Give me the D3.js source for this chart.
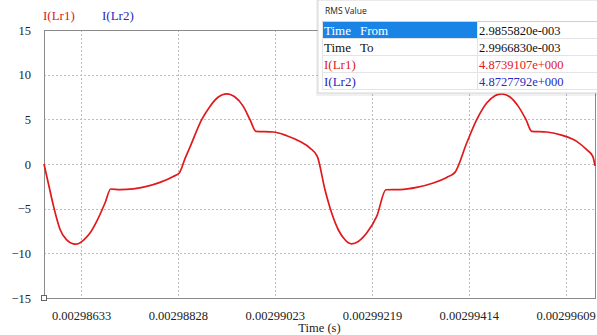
<!DOCTYPE html>
<html>
<head>
<meta charset="utf-8">
<script src="https://cdn.jsdelivr.net/npm/d3@7"></script>
<style>
  html, body { margin: 0; padding: 0; background: #fff; }
  svg { display: block; }
  svg text { font-family: "Liberation Serif", "Times New Roman", serif; }
  svg text.ui { font-family: "Open Sans", "Noto Sans", sans-serif; }
</style>
</head>
<body>
<script>
// Simulation time samples (microseconds) and inductor current I(Lr1) in amperes
const timeUs = [
  2985.582, 2985.703, 2985.769, 2985.838, 2985.904, 2986.039, 2986.172, 2986.222, 2986.273,
  2986.374, 2986.509, 2986.644, 2986.811, 2986.926, 2987.113, 2987.381, 2987.651, 2987.919,
  2988.187, 2988.308, 2988.423, 2988.524, 2988.759, 2988.926, 2989.094, 2989.178, 2989.263,
  2989.347, 2989.430, 2989.597, 2989.732, 2989.853, 2990.202, 2990.472, 2990.740, 2990.941,
  2991.088, 2991.243, 2991.378, 2991.511, 2991.646, 2991.714, 2991.781, 2991.914, 2992.083,
  2992.285, 2992.472, 2992.754, 2993.091, 2993.425, 2993.695, 2993.862, 2994.098, 2994.300,
  2994.501, 2994.668, 2994.735, 2994.803, 2994.886, 2994.970, 2995.138, 2995.293, 2995.408,
  2995.710, 2996.044, 2996.314, 2996.516, 2996.639, 2996.683
];
const iLr1 = [
  0, -3.0, -4.6, -6.1, -7.3, -8.5, -8.95, -8.98, -8.93,
  -8.55, -7.73, -6.42, -4.37, -2.80, -2.86, -2.78, -2.51, -2.06,
  -1.39, -1.0, 0.6, 1.9, 4.96, 6.45, 7.5, 7.75, 7.84,
  7.75, 7.5, 6.45, 4.96, 3.65, 3.58, 3.17, 2.53, 1.79,
  0.85, -2.88, -5.49, -7.36, -8.48, -8.82, -8.93, -8.67, -7.73,
  -5.87, -2.88, -2.86, -2.62, -2.13, -1.50, -0.94, 2.35, 4.96,
  6.83, 7.65, 7.80, 7.84, 7.75, 7.50, 6.45, 4.96, 3.65,
  3.58, 3.17, 2.53, 1.60, 0.85, -0.2
];

// Axis ticks
const xTickValues = [0.00298633, 0.00298828, 0.00299023, 0.00299219, 0.00299414, 0.00299609];
const xTickLabels = ["0.00298633", "0.00298828", "0.00299023", "0.00299219", "0.00299414", "0.00299609"];
const yTickValues = [-15, -10, -5, 0, 5, 10, 15];
const timeDomain = [2.985582e-3, 2.996683e-3];
const currentDomain = [-15, 15];

// Legend traces
const traceNames = ["I(Lr1)", "I(Lr2)"];
const traceColors = ["#e0191c", "#2a2ac0"];

// RMS measurement table
const rmsLabels = [["Time", "From"], ["Time", "To"], ["I(Lr1)", ""], ["I(Lr2)", ""]];
const rmsValues = ["2.9855820e-003", "2.9966830e-003", "4.8739107e+000", "4.8727792e+000"];
const rmsColors = ["#ffffff", "#111111", "#e0191c", "#2a2ac0"];

const W = 597, H = 335;
const m = { left: 44, right: 595, top: 30, bottom: 298 };

const svg = d3.select("body").append("svg").attr("width", W).attr("height", H);

const x = d3.scaleLinear().domain(timeDomain).range([m.left, m.right]);
const y = d3.scaleLinear().domain(currentDomain).range([m.bottom, m.top]);

// Dotted grid
const grid = svg.append("g").attr("stroke", "#bdbdbd").attr("stroke-dasharray", "2,2").attr("stroke-width", 1);
grid.selectAll("line.v").data(xTickValues).join("line")
  .attr("x1", d => Math.round(x(d)) + 0.5).attr("x2", d => Math.round(x(d)) + 0.5)
  .attr("y1", m.top).attr("y2", m.bottom);
grid.selectAll("line.h").data(yTickValues.filter(v => v > -15 && v < 15)).join("line")
  .attr("x1", m.left).attr("x2", m.right)
  .attr("y1", d => Math.round(y(d)) + 0.5).attr("y2", d => Math.round(y(d)) + 0.5);

// Plot frame
svg.append("rect")
  .attr("x", m.left + 0.5).attr("y", m.top + 0.5)
  .attr("width", m.right - m.left).attr("height", m.bottom - m.top)
  .attr("fill", "none").attr("stroke", "#8a8a8a").attr("stroke-width", 1);

// Y axis labels
const yAxis = d3.axisLeft(y).tickValues(yTickValues).tickSize(0).tickPadding(13);
const gy = svg.append("g").attr("transform", `translate(${m.left},0)`).call(yAxis);
gy.attr("font-family", null);
gy.select(".domain").remove();
gy.selectAll("text").attr("font-size", 12.5).attr("fill", "#222");

// X axis labels
const xAxis = d3.axisBottom(x).tickValues(xTickValues)
  .tickFormat((d, i) => xTickLabels[i]).tickSize(0).tickPadding(13);
const gx = svg.append("g").attr("transform", `translate(0,${m.bottom})`).call(xAxis);
gx.attr("font-family", null);
gx.select(".domain").remove();
gx.selectAll("text").attr("font-size", 12.5).attr("fill", "#222");

svg.append("text").attr("x", (m.left + m.right) / 2 + 0).attr("y", 332)
  .attr("text-anchor", "middle").attr("font-size", 12.5)
  .attr("fill", "#222").text("Time (s)");

// Origin marker
svg.append("rect").attr("x", m.left - 2.5).attr("y", m.bottom - 2.5)
  .attr("width", 5).attr("height", 5).attr("fill", "#fff").attr("stroke", "#666");

// Current waveform
const pts = timeUs.map((t, i) => [t * 1e-6, iLr1[i]]);
const line = d3.line().x(d => x(d[0])).y(d => y(d[1])).curve(d3.curveMonotoneX);
svg.append("path").datum(pts)
  .attr("d", line).attr("fill", "none")
  .attr("stroke", traceColors[0]).attr("stroke-width", 1.7)
  .attr("stroke-linejoin", "round");

// Legend
const legendX = [43, 102];
svg.selectAll("text.legend").data(traceNames).join("text")
  .attr("class", "legend")
  .attr("x", (d, i) => legendX[i]).attr("y", 20)
  .attr("font-size", 13)
  .attr("fill", (d, i) => traceColors[i]).text(d => d);

// RMS panel
const panel = svg.append("g");
panel.append("rect").attr("x", 316).attr("y", 0).attr("width", 290).attr("height", 96)
  .attr("fill", "#000").attr("opacity", 0.06);
panel.append("rect").attr("x", 318).attr("y", 0).attr("width", 290).attr("height", 93)
  .attr("fill", "#fff").attr("stroke", "#d6d6d6");
panel.append("text").attr("class", "ui").attr("x", 325).attr("y", 14)
  .attr("font-size", 8.5).attr("fill", "#222").text("RMS Value");
panel.append("line").attr("x1", 322).attr("x2", 597).attr("y1", 21.5).attr("y2", 21.5)
  .attr("stroke", "#b9d4ee");

const rowY = d3.scaleBand().domain(d3.range(rmsValues.length)).range([22, 90]);
const rows = panel.selectAll("g.row").data(rmsValues).join("g").attr("class", "row")
  .attr("transform", (d, i) => `translate(0,${rowY(i)})`);
rows.filter((d, i) => i === 0).append("rect")
  .attr("x", 322).attr("y", 0).attr("width", 155).attr("height", rowY.bandwidth())
  .attr("fill", "#1a84e6");
rows.append("line").attr("x1", 322).attr("x2", 597)
  .attr("y1", rowY.bandwidth() - 0.5).attr("y2", rowY.bandwidth() - 0.5)
  .attr("stroke", "#e4e4e4");
rows.append("text").attr("x", 324).attr("y", 13)
  .attr("font-size", 13)
  .attr("fill", (d, i) => rmsColors[i]).text((d, i) => rmsLabels[i][0]);
rows.append("text").attr("x", 360).attr("y", 13)
  .attr("font-size", 13)
  .attr("fill", (d, i) => rmsColors[i]).text((d, i) => rmsLabels[i][1]);
rows.append("text").attr("x", 479).attr("y", 13)
  .attr("font-size", 12.5)
  .attr("fill", (d, i) => i === 0 ? "#111" : rmsColors[i]).text(d => d);
panel.append("line").attr("x1", 477.5).attr("x2", 477.5).attr("y1", 22).attr("y2", 90)
  .attr("stroke", "#e4e4e4");
panel.append("line").attr("x1", 322.5).attr("x2", 322.5).attr("y1", 22).attr("y2", 90)
  .attr("stroke", "#e4e4e4");
</script>
</body>
</html>
